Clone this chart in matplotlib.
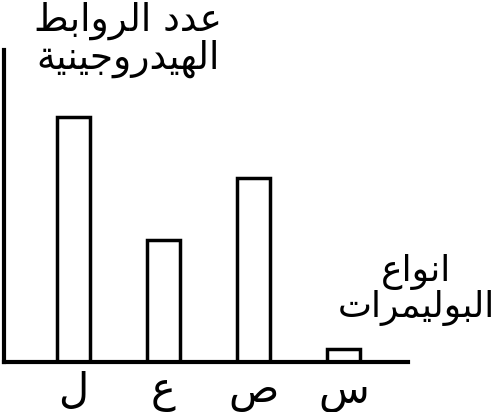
import matplotlib
matplotlib.use("Agg")
import matplotlib.pyplot as plt

# presentation forms: isolated, final, initial, medial
FORMS = {
    'ا': ('\uFE8D', '\uFE8E', None, None),
    'ب': ('\uFE8F', '\uFE90', '\uFE91', '\uFE92'),
    'ة': ('\uFE93', '\uFE94', None, None),
    'ت': ('\uFE95', '\uFE96', '\uFE97', '\uFE98'),
    'ج': ('\uFE9D', '\uFE9E', '\uFE9F', '\uFEA0'),
    'د': ('\uFEA9', '\uFEAA', None, None),
    'ر': ('\uFEAD', '\uFEAE', None, None),
    'س': ('\uFEB1', '\uFEB2', '\uFEB3', '\uFEB4'),
    'ص': ('\uFEB9', '\uFEBA', '\uFEBB', '\uFEBC'),
    'ط': ('\uFEC1', '\uFEC2', '\uFEC3', '\uFEC4'),
    'ع': ('\uFEC9', '\uFECA', '\uFECB', '\uFECC'),
    'ل': ('\uFEDD', '\uFEDE', '\uFEDF', '\uFEE0'),
    'م': ('\uFEE1', '\uFEE2', '\uFEE3', '\uFEE4'),
    'ن': ('\uFEE5', '\uFEE6', '\uFEE7', '\uFEE8'),
    'ه': ('\uFEE9', '\uFEEA', '\uFEEB', '\uFEEC'),
    'و': ('\uFEED', '\uFEEE', None, None),
    'ي': ('\uFEF1', '\uFEF2', '\uFEF3', '\uFEF4'),
}


def shape(line):
    out = []
    for i, c in enumerate(line):
        if c not in FORMS:
            out.append(c)
            continue
        prev = line[i - 1] if i > 0 else ''
        nxt = line[i + 1] if i + 1 < len(line) else ''
        jp = prev in FORMS and FORMS[prev][2] is not None
        jn = nxt in FORMS and FORMS[c][2] is not None
        iso, fin, ini, med = FORMS[c]
        if jp and jn:
            out.append(med)
        elif jn:
            out.append(ini)
        elif jp:
            out.append(fin)
        else:
            out.append(iso)
    return ''.join(out)[::-1]


def ar(text):
    return '\n'.join(shape(l) for l in text.split('\n'))


categories = ['ل', 'ع', 'ص', 'س']
values = [8.0, 4.0, 6.0, 0.42]
y_title = 'عدد الروابط\nالهيدروجينية'
x_title = 'انواع\nالبوليمرات'

plt.rcParams['font.family'] = ['DejaVu Sans']

fig = plt.figure(figsize=(4.95, 4.12), dpi=100)
ax = fig.add_axes([4 / 495, 50 / 412, 404 / 495, 312 / 412])

pos = list(range(len(categories)))
ax.bar(pos, values, width=0.367, color='white', edgecolor='black',
       linewidth=2.5, zorder=1)

ax.set_xlim(-0.772, 3.717)
ax.set_ylim(0, 10.2)

for s in ['top', 'right']:
    ax.spines[s].set_visible(False)
ax.spines['left'].set_linewidth(3)
ax.spines['bottom'].set_linewidth(3)
ax.spines['bottom'].set_zorder(3)

ax.set_yticks([])
ax.set_xticks(pos)
ax.set_xticklabels([ar(c) for c in categories], fontsize=30)
ax.tick_params(axis='x', length=0, pad=6)

fig.text(128 / 495, 1 - 40 / 412, ar(y_title), ha='center', va='center',
         fontsize=27, linespacing=1.0)
fig.text(416 / 495, 1 - 290 / 412, ar(x_title), ha='center', va='center',
         fontsize=26, linespacing=1.0)

fig.savefig('out.png', dpi=100)
